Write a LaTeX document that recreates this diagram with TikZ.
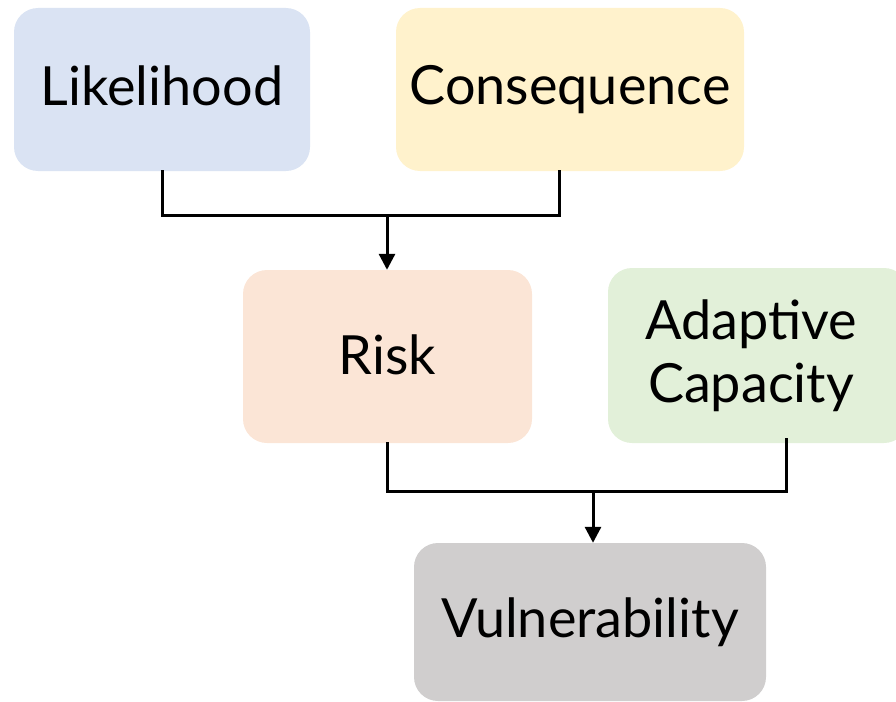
\documentclass[tikz,border=0pt]{standalone}
\usepackage{fontspec}
\setmainfont{Lato}
\usetikzlibrary{arrows.meta}
\definecolor{cblue}{HTML}{DAE3F3}
\definecolor{cyellow}{HTML}{FFF2CC}
\definecolor{cpeach}{HTML}{FBE5D6}
\definecolor{cgreen}{HTML}{E2F0D9}
\definecolor{cgrey}{HTML}{D0CECE}
\tikzset{
  box/.style={rounded corners=24pt, inner sep=0pt, align=center,
    font=\fontsize{54}{63}\selectfont},
  link/.style={line width=3pt, draw=black, line cap=rect},
  arr/.style={line width=3pt, draw=black, -{Triangle[width=16pt,length=16pt]}}
}
\begin{document}
\begin{tikzpicture}[x=1pt,y=-1pt]
\useasboundingbox (0,0) rectangle (896,701);
\node[box, fill=cblue, minimum width=296pt, minimum height=163pt] (like) at (162,89.5) {\raisebox{8pt}{Likelihood}};
\node[box, fill=cyellow, minimum width=348pt, minimum height=163pt] (cons) at (570,89.5) {\raisebox{5pt}{Consequence}};
\node[box, fill=cpeach, minimum width=289pt, minimum height=173pt] (risk) at (387.5,356.5) {\raisebox{3pt}{Risk}};
\node[box, fill=cgreen, minimum width=300pt, minimum height=175pt] (adap) at (758,355.5) {\hspace*{-14pt}Adaptive\\\hspace*{-14pt}Capacity};
\node[box, fill=cgrey, minimum width=352pt, minimum height=158pt] (vuln) at (590,622) {\raisebox{8pt}{Vulnerability}};
\coordinate (j1) at (387,215);
\coordinate (j2) at (593,491);
\draw[link] (like.south) |- (j1) -| ([xshift=-11pt]cons.south);
\draw[arr] (j1) -- (j1 |- risk.north);
\draw[link] (risk.south) |- (j2) -| ([xshift=28pt,yshift=4pt]adap.south);
\draw[arr] (j2) -- (j2 |- vuln.north);
\end{tikzpicture}
\end{document}
